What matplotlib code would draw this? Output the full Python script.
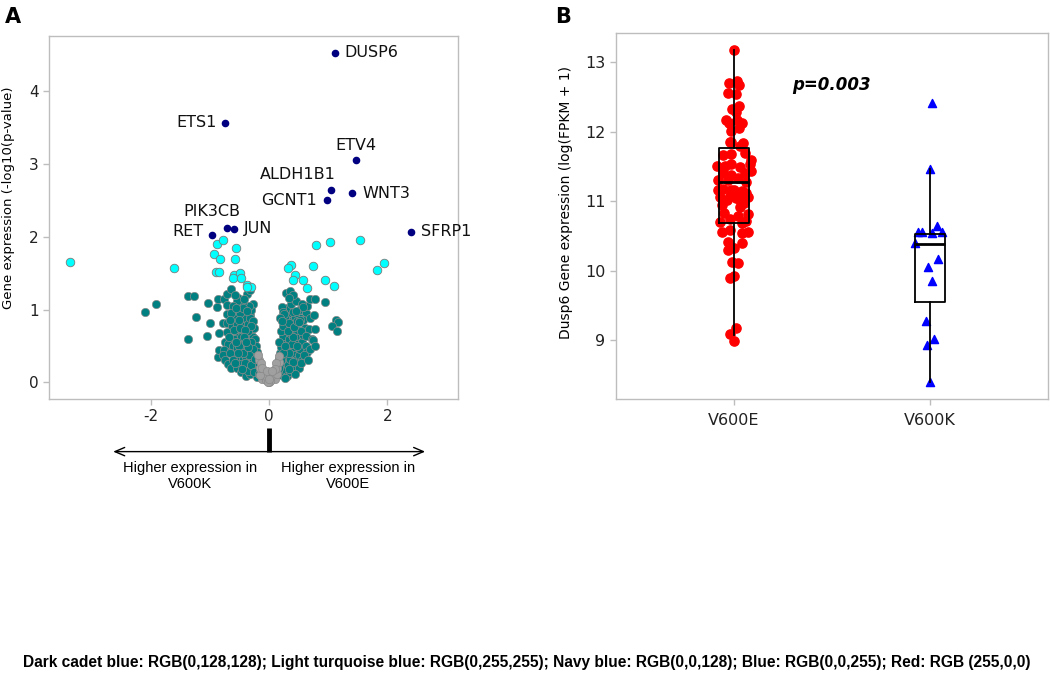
import matplotlib
matplotlib.use("Agg")
import matplotlib.pyplot as plt
import matplotlib.transforms as mtransforms

plt.rcParams["axes.unicode_minus"] = False

# ---------------- Colours ----------------
TEAL = (0 / 255, 128 / 255, 128 / 255)
CYAN = (0 / 255, 255 / 255, 255 / 255)
NAVY = (0 / 255, 0 / 255, 128 / 255)
BLUE = (0 / 255, 0 / 255, 255 / 255)
RED = (255 / 255, 0 / 255, 0 / 255)
GREY = "#a0a0a0"
SPINE = "#bdbdbd"

# ---------------- Panel A data (log2FC, -log10 p) ----------------
gene_names = ["DUSP6", "ETS1", "ETV4", "ALDH1B1", "WNT3", "GCNT1", "PIK3CB", "JUN", "RET", "SFRP1"]
gene_x = [1.11, -0.75, 1.47, 1.04, 1.41, 0.98, -0.71, -0.60, -0.97, 2.41]
gene_y = [4.53, 3.57, 3.06, 2.64, 2.60, 2.50, 2.12, 2.10, 2.03, 2.07]
# label offsets in points
label_dx = [7, -6, 0, 4, 7, -7, -11, 7, -6, 7]
label_dy = [0, 0, 10, 11, 0, 0, 12, 1, 2, 0]
label_ha = ["left", "right", "center", "right", "left", "right", "center", "left", "right", "left"]

cyan_pts = [
    (-3.38, 1.66), (-1.61, 1.57), (-0.89, 1.90), (-0.78, 1.95), (-0.57, 1.84),
    (-0.93, 1.76), (-0.84, 1.70), (-0.58, 1.70), (-0.90, 1.52), (-0.85, 1.52),
    (-0.60, 1.48), (-0.50, 1.50), (-0.62, 1.43), (-0.48, 1.44), (-0.38, 1.34),
    (-0.30, 1.31), (-0.37, 1.31), (0.37, 1.61), (0.32, 1.57), (0.44, 1.48),
    (0.41, 1.40), (0.58, 1.40), (0.64, 1.30), (0.80, 1.89), (1.03, 1.93),
    (1.54, 1.95), (0.75, 1.60), (0.94, 1.41), (1.10, 1.32), (1.83, 1.54),
    (1.95, 1.64),
]

teal_pts = [
    # left side, scattered
    (-2.10, 0.96), (-1.91, 1.07), (-1.38, 1.19), (-1.27, 1.19), (-1.24, 0.90),
    (-1.38, 0.60), (-1.03, 1.09), (-1.01, 0.82), (-1.05, 0.63), (-0.86, 0.35),
    (-0.85, 0.45), (-0.88, 1.04), (-0.87, 1.14), (-0.77, 1.15), (-0.72, 1.21),
    (-0.65, 1.28), (-0.71, 1.06), (-0.71, 0.94), (-0.52, 1.16), (-0.50, 1.07),
    (-0.38, 1.21), (-0.32, 1.27), (-0.27, 1.07), (-0.42, 0.97), (-0.32, 0.92),
    (-0.79, 0.81), (-0.72, 0.82), (-0.85, 0.68), (-0.72, 0.69), (-0.63, 0.78),
    (-0.48, 0.86), (-0.75, 0.55), (-0.69, 0.53), (-0.76, 0.44), (-0.65, 0.43),
    (-0.78, 0.38), (-0.74, 0.30), (-0.70, 0.25),
    # left arm, dense
    (-0.60, 0.98), (-0.58, 0.90), (-0.55, 0.80), (-0.56, 0.70), (-0.52, 0.62),
    (-0.60, 0.60), (-0.62, 0.50), (-0.55, 0.47), (-0.50, 0.40), (-0.58, 0.36),
    (-0.52, 0.30), (-0.45, 0.34), (-0.47, 0.25), (-0.42, 0.20), (-0.38, 0.15),
    (-0.35, 0.28), (-0.40, 0.42), (-0.44, 0.55), (-0.46, 0.70), (-0.43, 0.78),
    (-0.40, 0.88), (-0.36, 0.80), (-0.38, 0.65), (-0.35, 0.55), (-0.33, 0.45),
    (-0.30, 0.38), (-0.28, 0.30), (-0.25, 0.22), (-0.22, 0.15), (-0.30, 0.70),
    (-0.28, 0.62), (-0.26, 0.52), (-0.24, 0.44), (-0.22, 0.36), (-0.20, 0.28),
    (-0.30, 1.00), (-0.35, 1.05), (-0.45, 1.10), (-0.55, 1.12), (-0.62, 1.05),
    (-0.65, 0.95), (-0.66, 0.85), (-0.68, 0.62), (-0.66, 0.40), (-0.62, 0.30),
    (-0.64, 0.20), (-0.55, 0.20), (-0.48, 0.14), (-0.40, 0.08), (-0.33, 0.12),
    (-0.24, 0.60), (-0.22, 0.50), (-0.20, 0.42), (-0.26, 0.75), (-0.33, 0.88),
    (-0.50, 0.95), (-0.58, 1.20), (-0.42, 1.15), (-0.36, 0.70), (-0.48, 0.52),
    (-0.53, 0.55), (-0.40, 0.35), (-0.36, 0.22), (-0.32, 0.18), (-0.60, 0.72),
    (-0.41, 0.26), (-0.36, 0.15), (-0.21, 0.07), (-0.47, 0.62), (-0.50, 0.75),
    (-0.44, 1.02), (-0.38, 0.98), (-0.28, 0.84), (-0.31, 0.78), (-0.41, 0.72),
    (-0.45, 0.46), (-0.51, 0.50), (-0.57, 0.55), (-0.42, 0.62), (-0.30, 0.56),
    (-0.27, 0.46), (-0.34, 0.38), (-0.44, 0.40), (-0.53, 0.40), (-0.46, 0.18),
    (-0.30, 0.24), (-0.26, 0.14), (-0.18, 0.12), (-0.58, 0.26), (-0.51, 0.85),
    (-0.57, 1.02), (-0.36, 0.48), (-0.24, 0.32), (-0.39, 0.55),
    # right arm, dense
    (0.10, 0.12), (0.12, 0.18), (0.14, 0.25), (0.16, 0.32), (0.18, 0.40),
    (0.20, 0.48), (0.22, 0.56), (0.24, 0.64), (0.26, 0.72), (0.28, 0.80),
    (0.30, 0.88), (0.18, 0.14), (0.22, 0.20), (0.26, 0.28), (0.28, 0.36),
    (0.30, 0.44), (0.32, 0.52), (0.34, 0.60), (0.36, 0.68), (0.38, 0.76),
    (0.40, 0.85), (0.22, 0.10), (0.28, 0.16), (0.32, 0.24), (0.36, 0.32),
    (0.40, 0.40), (0.42, 0.48), (0.44, 0.56), (0.46, 0.64), (0.48, 0.72),
    (0.30, 0.08), (0.36, 0.14), (0.42, 0.22), (0.46, 0.30), (0.50, 0.38),
    (0.52, 0.46), (0.55, 0.55), (0.58, 0.65), (0.60, 0.75), (0.56, 0.30),
    (0.50, 0.20), (0.44, 0.12), (0.62, 0.50), (0.64, 0.42), (0.34, 0.95),
    (0.30, 1.02), (0.37, 1.08), (0.45, 1.12), (0.50, 1.00), (0.62, 0.95),
    (0.64, 1.05), (0.54, 0.70), (0.52, 0.88), (0.44, 0.90), (0.20, 0.70),
    (0.24, 0.78), (0.16, 0.55), (0.26, 0.88), (0.33, 0.82), (0.38, 0.52),
    (0.34, 0.40), (0.40, 0.62), (0.48, 0.50), (0.24, 0.40), (0.20, 0.30),
    (0.16, 0.20), (0.26, 0.50), (0.32, 0.70), (0.42, 0.76), (0.48, 0.84),
    (0.58, 0.86), (0.54, 0.26), (0.40, 0.28), (0.34, 0.18), (0.26, 0.06),
    # right side, scattered
    (0.28, 1.23), (0.36, 1.25), (0.41, 1.20), (0.33, 1.16), (0.69, 1.14),
    (0.78, 1.14), (0.94, 1.10), (0.55, 1.07), (0.58, 1.04), (0.41, 0.96),
    (0.45, 0.98), (0.53, 0.86), (0.50, 0.83), (0.69, 0.88), (0.76, 0.92),
    (0.67, 0.73), (0.78, 0.73), (1.13, 0.85), (1.16, 0.83), (1.07, 0.77),
    (1.15, 0.71), (0.22, 1.04), (0.24, 0.97), (0.25, 0.94), (0.18, 0.88),
    (0.21, 0.84), (0.63, 0.63), (0.72, 0.59), (0.75, 0.58), (0.69, 0.46),
    (0.59, 0.37), (0.78, 0.50), (0.66, 0.30),
]

grey_pts = [
    (-0.12, 0.05), (-0.08, 0.08), (-0.05, 0.03), (0.00, 0.00), (0.03, 0.04),
    (0.07, 0.08), (0.10, 0.05), (-0.10, 0.15), (0.08, 0.14), (-0.06, 0.12),
    (0.05, 0.10), (-0.03, 0.07), (0.02, 0.02), (-0.15, 0.10), (0.13, 0.12),
    (-0.02, 0.00), (0.00, 0.05), (-0.16, 0.20), (0.14, 0.20), (-0.18, 0.30),
    (0.16, 0.28), (-0.19, 0.38), (0.17, 0.36), (-0.14, 0.26), (0.12, 0.26),
    (-0.12, 0.20), (0.10, 0.18), (-0.04, 0.15), (0.04, 0.16),
]

# ---------------- Panel B data (Dusp6 log(FPKM + 1)) ----------------
groups = ["V600E", "V600K"]

v600e_dx = [
    0.000, -0.024, 0.014, 0.027, -0.029, 0.010, -0.010, 0.027, 0.010, -0.040,
    -0.024, 0.014, 0.044, 0.027, -0.012, -0.020, 0.030, -0.012, 0.047, -0.054,
    -0.012, 0.055, -0.085, -0.046, -0.012, 0.030, 0.081, 0.090, -0.054, -0.012,
    0.055, -0.080, -0.030, 0.020, 0.060, -0.054, -0.012, 0.040, -0.070, -0.020,
    0.030, 0.070, -0.080, 0.000, 0.064, -0.037, 0.010, 0.030, 0.056, -0.050,
    0.030, 0.070, -0.062, -0.020, 0.040, 0.070, 0.040, -0.029, 0.040, -0.030,
    0.000, -0.010, 0.020, -0.020, 0.000, 0.010, -0.020, 0.000, -0.060, 0.050,
    -0.020, 0.020, 0.060, -0.070, 0.085,
]
v600e_y = [
    13.18, 12.70, 12.73, 12.68, 12.56, 12.55, 12.33, 12.37, 12.28, 12.17,
    12.13, 12.17, 12.13, 12.05, 12.01, 11.85, 11.79, 11.85, 11.84, 11.66,
    11.68, 11.70, 11.51, 11.51, 11.53, 11.49, 11.54, 11.44, 11.41, 11.38,
    11.40, 11.31, 11.30, 11.34, 11.27, 11.18, 11.16, 11.15, 11.06, 11.07,
    11.08, 11.06, 11.16, 11.16, 11.12, 11.01, 11.04, 11.02, 11.07, 10.83,
    10.92, 10.82, 10.56, 10.58, 10.54, 10.56, 10.68, 10.41, 10.39, 10.29,
    10.32, 10.12, 10.11, 9.89, 9.92, 9.17, 9.09, 8.99, 10.95, 10.97,
    10.75, 10.78, 10.72, 10.70, 11.60,
]
v600k_dx = [0.012, 0.000, -0.064, -0.039, 0.012, 0.034, 0.063, -0.076, 0.042, -0.010, 0.008, -0.019, -0.017, 0.022, 0.000]
v600k_y = [12.41, 11.46, 10.56, 10.56, 10.54, 10.64, 10.56, 10.39, 10.16, 10.05, 9.85, 9.27, 8.93, 9.02, 8.39]

# box statistics
box_q1 = [10.68, 9.55]
box_med = [11.28, 10.38]
box_q3 = [11.77, 10.53]
box_lo = [9.07, 8.39]
box_hi = [13.18, 11.46]

BOTTOM_NOTE = ("Dark cadet blue: RGB(0,128,128); Light turquoise blue: RGB(0,255,255); "
               "Navy blue: RGB(0,0,128); Blue: RGB(0,0,255); Red: RGB (255,0,0)")


def style_axes(ax, labelsize):
    for sp in ax.spines.values():
        sp.set_color(SPINE)
        sp.set_linewidth(1.0)
    ax.tick_params(colors=SPINE, labelcolor="#222222", labelsize=labelsize, length=4, width=1)


# ---------------- Figure ----------------
fig = plt.figure(figsize=(10.5, 6.91), dpi=100)

# ----- Panel A: volcano -----
axA = fig.add_axes([0.0467, 0.4226, 0.3895, 0.5253])
tx, ty = zip(*teal_pts)
axA.scatter(tx, ty, s=36, color=TEAL, edgecolors="#8a8a8a", linewidths=0.5, zorder=2)
gx, gy = zip(*grey_pts)
axA.scatter(gx, gy, s=36, color=GREY, edgecolors="#8a8a8a", linewidths=0.5, zorder=3)
cx, cy = zip(*cyan_pts)
axA.scatter(cx, cy, s=38, color=CYAN, edgecolors="#7a7a7a", linewidths=0.6, zorder=4)
axA.scatter(gene_x, gene_y, s=20, color=NAVY, zorder=5)
for name, x, y, dx, dy, ha in zip(gene_names, gene_x, gene_y, label_dx, label_dy, label_ha):
    axA.annotate(name, (x, y), xytext=(dx, dy), textcoords="offset points",
                 ha=ha, va="center", fontsize=11.5, color="#111111")

axA.set_xlim(-3.73, 3.2)
axA.set_ylim(-0.23, 4.76)
axA.set_xticks([-2, 0, 2])
axA.set_yticks([0, 1, 2, 3, 4])
style_axes(axA, 11)
axA.set_ylabel("Gene expression (-log10(p-value)", fontsize=9.5)
axA.yaxis.set_label_coords(-0.083, 0.555)

# direction arrow under the x axis
trA = mtransforms.blended_transform_factory(axA.transData, axA.transAxes)
axA.annotate("", xy=(-2.69, -0.145), xytext=(2.69, -0.145), xycoords=trA, textcoords=trA,
             arrowprops=dict(arrowstyle="<->,head_length=0.7,head_width=0.3", color="black", lw=1),
             annotation_clip=False)
axA.plot([0, 0], [-0.079, -0.145], transform=trA, color="black", lw=3.5, clip_on=False,
         solid_capstyle="butt")
axA.text(-1.34, -0.172, "Higher expression in\nV600K", transform=trA, ha="center", va="top",
         fontsize=10.5, family="Liberation Sans", linespacing=1.15)
axA.text(1.34, -0.172, "Higher expression in\nV600E", transform=trA, ha="center", va="top",
         fontsize=10.5, family="Liberation Sans", linespacing=1.15)

# ----- Panel B: box + strip -----
axB = fig.add_axes([0.5867, 0.4226, 0.4113, 0.5294])
stats = []
for i, g in enumerate(groups):
    stats.append(dict(label=g, q1=box_q1[i], med=box_med[i], q3=box_q3[i],
                      whislo=box_lo[i], whishi=box_hi[i], fliers=[]))
axB.scatter([0 + d for d in v600e_dx], v600e_y, s=44, color=RED, zorder=2)
axB.scatter([1 + d for d in v600k_dx], v600k_y, s=34, marker="^", color=BLUE, zorder=2)
axB.bxp(stats, positions=[0, 1], widths=0.15, showcaps=False, showfliers=False,
        boxprops=dict(color="black", lw=1.3), whiskerprops=dict(color="black", lw=1.3),
        medianprops=dict(color="black", lw=2), zorder=3)
axB.text(0.50, 12.67, "p=0.003", fontsize=12, fontweight="bold", fontstyle="italic",
         ha="center", va="center")
axB.set_xlim(-0.6, 1.6)
axB.set_ylim(8.15, 13.42)
axB.set_xticks([0, 1])
axB.set_xticklabels(groups)
axB.set_yticks([9, 10, 11, 12, 13])
style_axes(axB, 11.5)
axB.tick_params(axis="x", pad=6)
axB.set_ylabel("Dusp6 Gene expression (log(FPKM + 1)", fontsize=10)
axB.yaxis.set_label_coords(-0.10, 0.537)

# ----- Panel letters and footnote -----
fig.text(0.005, 0.975, "A", fontsize=15, fontweight="bold", va="center")
fig.text(0.529, 0.975, "B", fontsize=15, fontweight="bold", va="center")
fig.text(0.502, 0.041, BOTTOM_NOTE, ha="center", va="center", fontsize=11.2, fontweight="bold",
         family="Liberation Sans")

fig.savefig("out.png", dpi=100)
plt.close(fig)
